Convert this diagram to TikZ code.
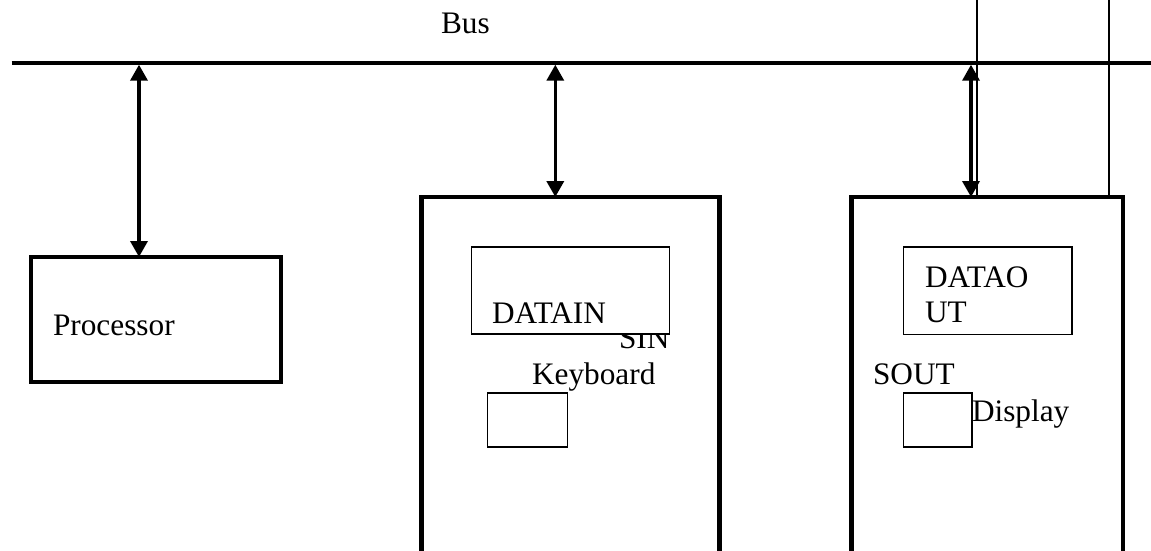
\documentclass[tikz,border=0pt]{standalone}
\usepackage{fontspec}
\setmainfont{Liberation Serif}
\usepackage{tikz}
\usetikzlibrary{arrows.meta,calc}

\begin{document}
\begin{tikzpicture}[x=1pt, y=-1pt,
  unit/.style={draw, rectangle, line width=4.5pt, anchor=north west,
    inner sep=0pt, outer sep=0pt},
  reg/.style={draw, rectangle, line width=1.6pt, fill=white,
    anchor=north west, inner sep=0pt, outer sep=0pt},
  lbl/.style={font=\fontsize{31.3}{35}\selectfont, anchor=base west,
    inner sep=0pt, outer sep=0pt},
  arr/.style={{Triangle[width=17pt,length=16pt]}-{Triangle[width=17pt,length=16pt]},
    line width=3.5pt},
  wire/.style={line width=1.6pt}]
  \useasboundingbox (0,0) rectangle (1151,550);
  \clip (0,0) rectangle (1151,550);
  % Bus
  \coordinate (busL) at (11.7,62.7);
  \coordinate (busR) at (1151,62.7);
  \draw[line width=4pt] (busL) -- (busR);
  \node[lbl] (bus) at (441,33) {Bus};
  % Processor
  \node[unit, minimum width=250pt, minimum height=125pt] (proc) at (31,257) {};
  \node[lbl] (proct) at (53,335) {Processor};
  % Keyboard interface
  \node[unit, minimum width=298pt, minimum height=380pt] (kbd) at (421.5,197) {};
  \node[lbl] (sin) at (619,348) {SIN};
  \node[reg, minimum width=198pt, minimum height=87pt] (datain) at (471.3,247) {};
  \node[lbl] (dataint) at (492,323) {DATAIN};
  \node[lbl] (kbdt) at (532,384) {Keyboard};
  \node[reg, minimum width=80pt, minimum height=54pt] (kbdsw) at (487.3,392.7) {};
  % Display interface
  \node[unit, minimum width=271.5pt, minimum height=380pt] (disp) at (851.7,197) {};
  \node[reg, minimum width=168.4pt, minimum height=87.6pt] (dataout) at (903.3,246.7) {};
  \node[lbl, align=left] (dataoutt) at (925,322) {DATAO\\UT};
  \node[lbl] (sout) at (873,384) {SOUT};
  \node[reg, minimum width=68.4pt, minimum height=54pt] (dispsw) at (903.3,392.7) {};
  \node[lbl] (dispt) at (972,421) {Display};
  % Arrows to the bus
  \coordinate (tapP) at (139,64.7);
  \coordinate (tapK) at (555.3,64.7);
  \coordinate (tapD) at (971,64.7);
  \draw[arr] (tapP) -- (tapP |- proc.north);
  \draw[arr] (tapK) -- (tapK |- kbd.north);
  \draw[arr] (tapD) -- (tapD |- disp.north);
  % Wires from the top
  \coordinate (w1) at (977,0);
  \coordinate (w2) at (1109,0);
  \draw[wire] (w1) -- (w1 |- disp.north);
  \draw[wire] (w2) -- (w2 |- disp.north);
\end{tikzpicture}
\end{document}
